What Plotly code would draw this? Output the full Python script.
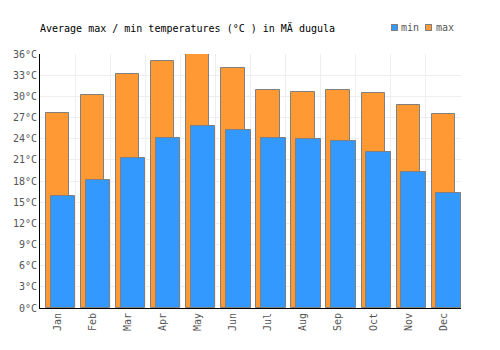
import plotly.graph_objects as go

months = ["Jan", "Feb", "Mar", "Apr", "May", "Jun", "Jul", "Aug", "Sep", "Oct", "Nov", "Dec"]
t_max = [27.6, 30.2, 33.1, 35.0, 36.0, 34.0, 30.9, 30.6, 30.9, 30.45, 28.8, 27.5]
t_min = [15.9, 18.1, 21.2, 24.1, 25.8, 25.2, 24.1, 23.9, 23.65, 22.1, 19.3, 16.3]
y_ticks = list(range(0, 37, 3))
y_labels = [f"{v}°C" for v in y_ticks]
legend_names = ["min", "max"]

FONT = "DejaVu Sans Mono"
C_MIN = "#3399ff"
C_MAX = "#ff9933"
EDGE = "#808080"

fig = go.Figure()
fig.add_trace(go.Bar(
    x=months, y=t_max, name="max", showlegend=False,
    marker=dict(color=C_MAX, line=dict(color=EDGE, width=1)),
    offset=-0.335, width=0.665,
))
fig.add_trace(go.Bar(
    x=months, y=t_min, name="min", showlegend=False,
    marker=dict(color=C_MIN, line=dict(color=EDGE, width=1)),
    offset=-0.2, width=0.7,
))

# custom compact legend
leg_py = (308 - 27.5) / 254
for name, col, sx, tx in [(legend_names[0], C_MIN, 394.5, 400), (legend_names[1], C_MAX, 428.5, 434.5)]:
    fig.add_annotation(
        xref="paper", yref="paper",
        x=(sx - 40) / 421, y=leg_py, xanchor="center", yanchor="middle",
        text=" ", width=5, height=5, bgcolor=col, bordercolor=EDGE, borderwidth=1,
        borderpad=0, showarrow=False, font=dict(size=4),
    )
    fig.add_annotation(
        xref="paper", yref="paper",
        x=(tx - 40) / 421, y=leg_py, xanchor="left", yanchor="middle",
        text=name, showarrow=False, borderpad=0,
        font=dict(family=FONT, size=10, color="#555555"),
    )

fig.update_layout(
    width=500, height=350,
    margin=dict(l=40, r=39, t=54, b=42, autoexpand=False),
    barmode="overlay",
    plot_bgcolor="white", paper_bgcolor="white",
    font=dict(family=FONT, size=10, color="#555555"),
    title=dict(text="Average max / min temperatures (°C ) in MÄ dugula",
               xref="container", yref="container", x=0.08, xanchor="left",
               y=1 - 28 / 350, yanchor="middle",
               font=dict(family=FONT, size=10, color="#000000")),
    showlegend=False,
    bargap=0,
)
fig.update_xaxes(
    type="category", tickson="boundaries", showgrid=True, gridcolor="#eeeeee",
    showline=True, linecolor="#000000", linewidth=1, tickangle=-90,
    ticks="", range=[-0.5, 11.5], tickfont=dict(color="#555555"),
)
fig.update_yaxes(
    range=[0, 36], tickvals=y_ticks, ticktext=y_labels, showgrid=True,
    gridcolor="#eeeeee", showline=True, linecolor="#000000", linewidth=1,
    zeroline=False, ticks="", tickfont=dict(color="#555555"),
)

fig.write_html("out.html")
